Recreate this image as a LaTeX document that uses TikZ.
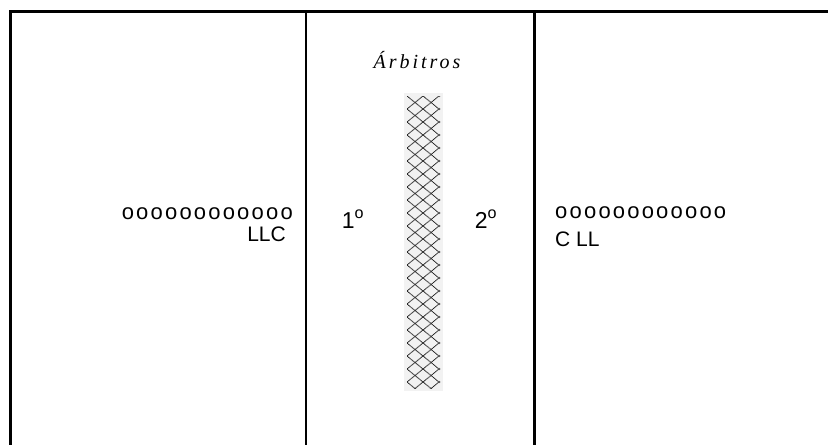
\documentclass[tikz,border=0pt]{standalone}
\usepackage{fontspec}
\setmainfont{Liberation Sans}
\newfontfamily\refereefont[LetterSpace=15]{Liberation Serif}
\newfontfamily\rowfont[LetterSpace=10]{Liberation Sans}
\usetikzlibrary{calc}
\tikzset{
  netline/.style={black!85, line width=0.9pt, dash pattern=on 0.9pt off 0.5pt},
  rowtext/.style={inner sep=0pt, text depth=0pt, font=\rowfont\fontsize{22}{22}\selectfont},
  teamtext/.style={inner sep=0pt, font=\fontsize{21}{21}\selectfont},
  placetext/.style={inner sep=0pt, font=\fontsize{23}{23}\selectfont},
}
\begin{document}
\begin{tikzpicture}[x=1pt,y=-1pt]
\useasboundingbox (0,0) rectangle (828,445);
\coordinate (TL) at (10.5,11.5);
\coordinate (TR) at (828,11.5);
\coordinate (BL) at (10.5,445);
\coordinate (M1) at (305.8,11.5);
\coordinate (M2) at (534.5,11.5);

% frame
\draw[line width=3pt] (TR)--(TL)--(BL);
\draw[line width=2.6pt] (M1)--(M1|-BL);
\draw[line width=2.4pt] (M2)--(M2|-BL);

% net
\coordinate (N1) at (407,96);
\coordinate (N2) at (440,388);
\fill[black!5] ($(N1)+(-3,-3)$) rectangle ($(N2)+(3,3)$);
\begin{scope}
\clip (N1) rectangle (N2);
\foreach \k in {-3,...,26} {
  \draw[netline] ($(N1)+(0,\k*13)$) -- ++(33,33*13/16);
  \draw[netline] ($(N1)+(0,\k*13)$) -- ++(33,-33*13/16);
}
\end{scope}

\node[inner sep=0pt, font=\refereefont\itshape\fontsize{20}{20}\selectfont, anchor=base] (arb) at (417,68) {Árbitros};
\node[placetext, anchor=base] (first) at (353,228) {1\textsuperscript{o}};
\node[placetext, anchor=base] (second) at (486,228) {2\textsuperscript{o}};

\node[rowtext, anchor=base east] (leftrow) at (293,219) {oooooooooooo};
\node[teamtext, anchor=base east] (leftteam) at (286,241) {LLC};
\node[rowtext, anchor=base west] (rightrow) at (555,218) {oooooooooooo};
\node[teamtext, anchor=base west] (rightteam) at (555,246) {C LL};
\end{tikzpicture}
\end{document}
